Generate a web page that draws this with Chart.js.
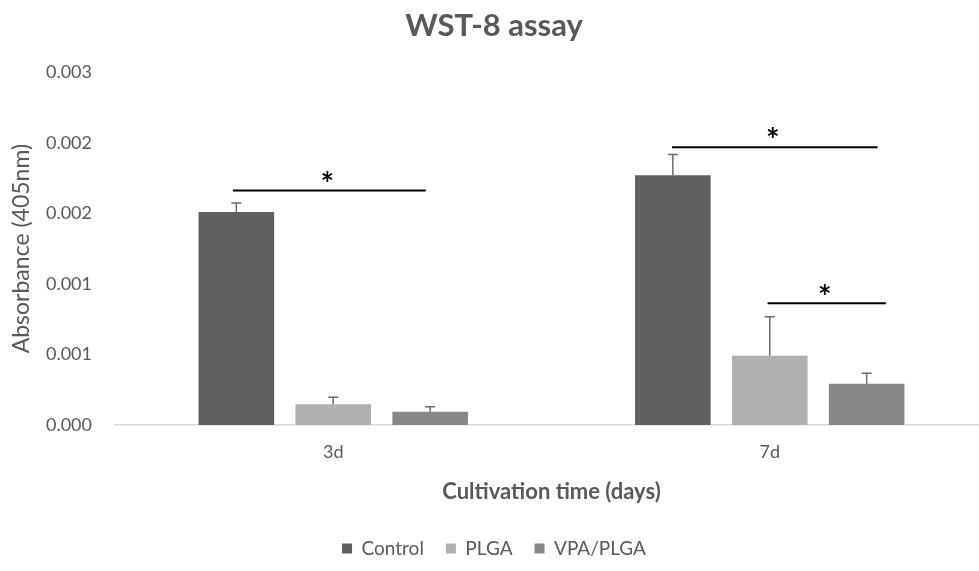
<!DOCTYPE html>
<html>
<head>
<meta charset="utf-8">
<script src="https://cdn.jsdelivr.net/npm/chart.js@4"></script>
<style>
  html, body { margin: 0; padding: 0; background: #fff; overflow: hidden; }
  #wrap { position: absolute; left: 0; top: 0; width: 992px; height: 568px; }
</style>
</head>
<body>
<div id="wrap"><canvas id="chartCanvas"></canvas></div>
<script>
// data
const categories = ["3d", "7d"];
const seriesNames = ["Control", "PLGA", "VPA/PLGA"];
const controlValues = [0.00151, 0.00177];
const plgaValues = [0.000147, 0.000491];
const vpaValues = [0.000094, 0.000292];
const controlErrors = [0.000064, 0.000147];
const plgaErrors = [0.00005, 0.000276];
const vpaErrors = [0.000035, 0.000074];
const yTickLabels = ["0.000", "0.001", "0.001", "0.002", "0.002", "0.003"];
// significance brackets: category-axis from/to, y level
const brackets = [
  { from: -0.23, to: 0.212, y: 0.001662 },
  { from: 0.776, to: 1.247, y: 0.001969 },
  { from: 0.995, to: 1.266, y: 0.000862 },
];

const gray = "#595959";
const fontFamily = "Lato, 'Open Sans', sans-serif";

const errorBars = {
  id: "errorBars",
  afterDatasetsDraw(chart) {
    const ctx = chart.ctx;
    const y = chart.scales.y;
    ctx.save();
    ctx.strokeStyle = "#6b6b6b";
    ctx.lineWidth = 1.5;
    chart.data.datasets.forEach((ds, i) => {
      const meta = chart.getDatasetMeta(i);
      meta.data.forEach((bar, j) => {
        const top = y.getPixelForValue(ds.data[j] + ds.errors[j]);
        ctx.beginPath();
        ctx.moveTo(bar.x, bar.y);
        ctx.lineTo(bar.x, top);
        ctx.moveTo(bar.x - 5, top);
        ctx.lineTo(bar.x + 5, top);
        ctx.stroke();
      });
    });
    ctx.restore();
  },
};

const sigMarks = {
  id: "sigMarks",
  afterDatasetsDraw(chart) {
    const ctx = chart.ctx;
    const x = chart.scales.x;
    const y = chart.scales.y;
    ctx.save();
    brackets.forEach((b) => {
      const x0 = x.getPixelForValue(b.from);
      const x1 = x.getPixelForValue(b.to);
      const py = y.getPixelForValue(b.y);
      ctx.strokeStyle = "#000";
      ctx.lineWidth = 2;
      ctx.beginPath();
      ctx.moveTo(x0, py);
      ctx.lineTo(x1, py);
      ctx.stroke();
      ctx.fillStyle = "#000";
      ctx.font = "bold 32px " + fontFamily;
      ctx.textAlign = "center";
      ctx.textBaseline = "middle";
      ctx.fillText("*", (x0 + x1) / 2 - 2, py - 5);
    });
    ctx.restore();
  },
};

new Chart(document.getElementById("chartCanvas"), {
  type: "bar",
  data: {
    labels: categories,
    datasets: [
      { label: seriesNames[0], data: controlValues, errors: controlErrors, backgroundColor: "#5f5f5f" },
      { label: seriesNames[1], data: plgaValues, errors: plgaErrors, backgroundColor: "#b0b0b0" },
      { label: seriesNames[2], data: vpaValues, errors: vpaErrors, backgroundColor: "#888888" },
    ],
  },
  options: {
    responsive: true,
    maintainAspectRatio: false,
    animation: false,
    categoryPercentage: 0.666,
    barPercentage: 0.78,
    layout: { padding: { left: 0, right: 4, top: 0, bottom: 0 } },
    plugins: {
      title: {
        display: true,
        text: "WST-8 assay",
        color: gray,
        font: { family: fontFamily, size: 31, weight: "bold" },
        padding: { top: 7, bottom: 28 },
      },
      legend: {
        position: "bottom",
        labels: {
          color: gray,
          font: { family: fontFamily, size: 19 },
          boxWidth: 10,
          boxHeight: 10,
          padding: 22,
        },
      },
      tooltip: { enabled: false },
    },
    scales: {
      x: {
        grid: { display: false },
        border: { color: "#d9d9d9", width: 1.5 },
        ticks: { color: gray, font: { family: fontFamily, size: 18 }, padding: 8 },
        title: {
          display: true,
          text: "Cultivation time (days)",
          color: gray,
          font: { family: fontFamily, size: 22, weight: "bold" },
          padding: { top: 8, bottom: 12 },
        },
      },
      y: {
        min: 0,
        max: 0.0025,
        grid: { display: false },
        border: { display: false },
        ticks: {
          stepSize: 0.0005,
          color: gray,
          font: { family: fontFamily, size: 18 },
          padding: 15,
          callback: (v, i) => yTickLabels[i],
        },
        title: {
          display: true,
          text: "Absorbance (405nm)",
          color: gray,
          font: { family: fontFamily, size: 23 },
          padding: { top: 8, bottom: 4 },
        },
        afterFit: (s) => { s.width = 115; },
      },
    },
  },
  plugins: [errorBars, sigMarks],
});
</script>
</body>
</html>
